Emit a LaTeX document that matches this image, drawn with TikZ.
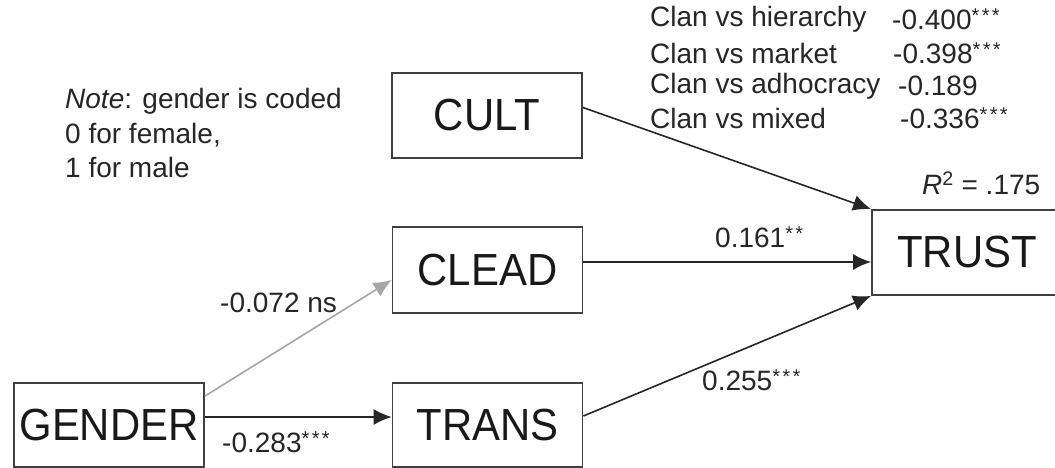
\documentclass[tikz,border=0pt]{standalone}
\usepackage{fontspec}
\setmainfont{Liberation Sans}
\newfontfamily\boxfont[FakeStretch=0.93]{Liberation Sans}
\usetikzlibrary{arrows.meta}
\tikzset{
  box/.style={draw=black!75, line width=1.8pt, inner sep=0pt, minimum width=190pt,
    font=\boxfont\fontsize{45}{50}\selectfont, text=black!90},
  lbl/.style={inner sep=0pt, anchor=west, font=\fontsize{28}{32}\selectfont, text=black!85},
  arr/.style={draw=black!85, line width=1.6pt, -{Latex[length=18pt,width=16pt]}},
  garr/.style={draw=black!35, line width=1.6pt, -{Latex[length=18pt,width=16pt]}}
}
\newcommand{\stars}[1]{\raisebox{7pt}{\fontsize{20}{20}\selectfont\addfontfeature{LetterSpace=12}#1}}
\begin{document}
\begin{tikzpicture}[x=1pt,y=-1pt]
\useasboundingbox (0,0) rectangle (1055,468);
% boxes
\node[box, minimum height=84pt] (gender) at (109,425) {GENDER};
\node[box, minimum height=84pt] (trans) at (487.5,425) {TRANS};
\node[box, minimum height=86pt] (clead) at (487.5,270) {CLEAD};
\node[box, minimum height=85pt] (cult) at (487,115.5) {CULT};
\node[box, minimum height=85pt] (trust) at (967,252.5) {TRUST};
% connectors
\draw[garr] ([yshift=-14pt]gender.north east) -- ([yshift=-10pt]clead.west);
\draw[arr] ([yshift=8pt]gender.east) -- ([yshift=8pt]trans.west);
\draw[arr] ([yshift=8pt]cult.east) -- (trust.north west);
\draw[arr] ([yshift=8pt]clead.east) -- ([yshift=8pt]clead.east -| trust.west);
\draw[arr] ([yshift=9pt]trans.east) -- (trust.south west);
% labels
\node[lbl] (lgc) at (220,303) {-0.072 ns};
\node[lbl] (lgt) at (222,442) {-0.283\stars{***}};
\node[lbl] (lct) at (715,237) {0.161\stars{**}};
\node[lbl] (ltt) at (702,380) {0.255\stars{***}};
\node[lbl] (rsq) at (922,183) {{\itshape R}\textsuperscript{2} = .175};
\node[lbl] (c1) at (650,19) {Clan vs hierarchy};
\node[lbl] (c2) at (650,53) {Clan vs market};
\node[lbl] (c3) at (650,86) {Clan vs adhocracy};
\node[lbl] (c4) at (650,118) {Clan vs mixed};
\node[lbl] (v1) at (892,19) {-0.400\stars{***}};
\node[lbl] (v2) at (893,53) {-0.398\stars{***}};
\node[lbl] (v3) at (898,86) {-0.189};
\node[lbl] (v4) at (900,118) {-0.336\stars{***}};
\node[lbl] (n1) at (65,101) {\itshape Note\upshape: gender is coded};
\node[lbl] (n2) at (65,135) {0 for female,};
\node[lbl] (n3) at (65,167) {1 for male};
\end{tikzpicture}
\end{document}
